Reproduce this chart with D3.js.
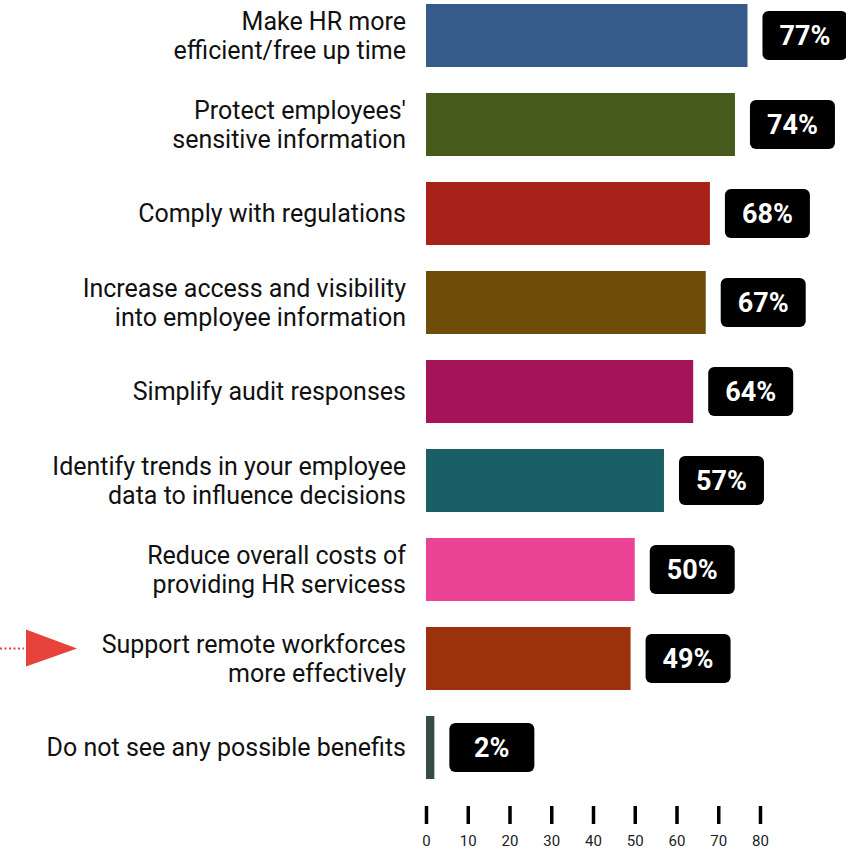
<!DOCTYPE html>
<html>
<head>
<meta charset="utf-8">
<script src="https://cdn.jsdelivr.net/npm/d3@7"></script>
<style>
  html, body { margin: 0; padding: 0; background: #fff; }
  svg { display: block; }
</style>
</head>
<body>
<div id="chart"></div>
<script>
// Survey answers: perceived benefits of the HR system
const categories = [
  ["Make HR more", "efficient/free up time"],
  ["Protect employees'", "sensitive information"],
  ["Comply with regulations"],
  ["Increase access and visibility", "into employee information"],
  ["Simplify audit responses"],
  ["Identify trends in your employee", "data to influence decisions"],
  ["Reduce overall costs of", "providing HR servicess"],
  ["Support remote workforces", "more effectively"],
  ["Do not see any possible benefits"]
];
const values = [77, 74, 68, 67, 64, 57, 50, 49, 2];
const barColors = ["#365a89", "#455a1b", "#a8221a", "#6d4d08", "#a51359",
                   "#1a5e66", "#eb4496", "#9c310d", "#374c49"];
const tickValues = [0, 10, 20, 30, 40, 50, 60, 70, 80];
const highlighted = 7; // row marked with the arrow

const width = 846, height = 853;

const svg = d3.select("#chart").append("svg")
  .attr("width", width)
  .attr("height", height);

const x = d3.scaleLinear().domain([0, 80]).range([426, 760]);
const y = d3.scaleBand()
  .domain(d3.range(values.length))
  .range([-9, 792])
  .paddingInner(0.292)
  .paddingOuter(0.146);

// bars
svg.append("g").selectAll("rect")
  .data(values)
  .join("rect")
  .attr("x", x(0))
  .attr("y", (d, i) => y(i))
  .attr("width", d => x(d) - x(0))
  .attr("height", y.bandwidth())
  .attr("fill", (d, i) => barColors[i]);

// category labels, right aligned against the bars
const labels = svg.append("g")
  .attr("font-family", "Roboto, sans-serif")
  .attr("font-size", 25)
  .attr("fill", "#111")
  .attr("text-anchor", "end");

const lineH = 29.5;
categories.forEach((lines, i) => {
  const cy = y(i) + y.bandwidth() / 2;
  const t = labels.append("text")
    .attr("x", 406)
    .attr("y", cy - (lines.length - 1) * lineH / 2);
  lines.forEach((ln, k) => {
    t.append("tspan")
      .attr("x", 406)
      .attr("dy", k === 0 ? "0.35em" : lineH)
      .text(ln);
  });
});

// value badges
const badgeW = 85, badgeH = 49;
const badges = svg.append("g").selectAll("g")
  .data(values)
  .join("g")
  .attr("transform", (d, i) =>
    `translate(${x(d) + 15},${y(i) + y.bandwidth() / 2 - badgeH / 2})`);

badges.append("rect")
  .attr("width", badgeW)
  .attr("height", badgeH)
  .attr("rx", 6)
  .attr("fill", "#000");

badges.append("text")
  .attr("x", badgeW / 2)
  .attr("y", badgeH / 2)
  .attr("dy", "0.36em")
  .attr("text-anchor", "middle")
  .attr("font-family", "Roboto, sans-serif")
  .attr("font-weight", "bold")
  .attr("font-size", 27)
  .attr("fill", "#fff")
  .text(d => d + "%");

// bottom axis: ticks only, no domain line
const axis = svg.append("g")
  .attr("transform", "translate(0,806)")
  .call(d3.axisBottom(x).tickValues(tickValues).tickSize(18).tickPadding(11));
axis.select(".domain").remove();
axis.selectAll(".tick line")
  .attr("stroke", "#000")
  .attr("stroke-width", 3.5);
axis.selectAll(".tick text")
  .attr("font-family", "Roboto, sans-serif")
  .attr("font-size", 15)
  .attr("fill", "#222");

// pointer marking the highlighted row
const ay = y(highlighted) + y.bandwidth() / 2 - 10;
svg.append("line")
  .attr("x1", 0).attr("x2", 24)
  .attr("y1", ay).attr("y2", ay)
  .attr("stroke", "#e8433a")
  .attr("stroke-width", 2)
  .attr("stroke-dasharray", "2,2.5");
svg.append("path")
  .attr("d", d3.line()([[26, ay - 19], [77, ay], [26, ay + 18]]) + "Z")
  .attr("fill", "#e8433a");
</script>
</body>
</html>
